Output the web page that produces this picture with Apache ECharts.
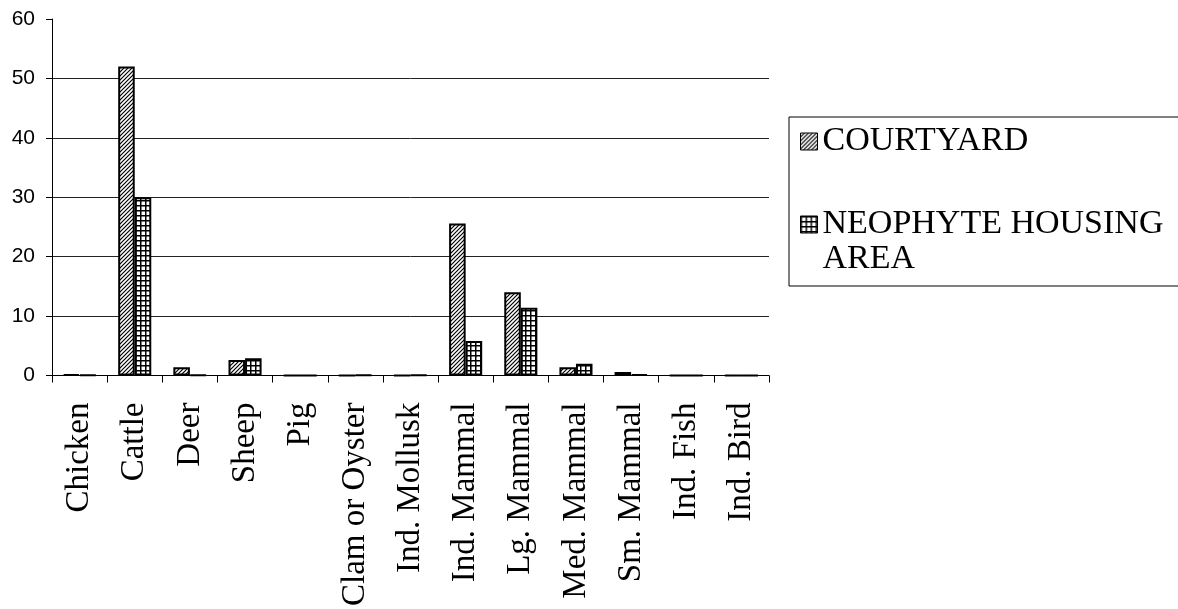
<!DOCTYPE html>
<html>
<head>
<meta charset="utf-8">
<style>html,body{margin:0;padding:0;background:#fff;}#chart{width:1178px;height:609px;}</style>
<script src="https://cdn.jsdelivr.net/npm/echarts@6/dist/echarts.min.js"></script>
</head>
<body>
<div id="chart"></div>
<script>
const categories = ['Chicken','Cattle','Deer','Sheep','Pig','Clam or Oyster','Ind. Mollusk','Ind. Mammal','Lg. Mammal','Med. Mammal','Sm. Mammal','Ind. Fish','Ind. Bird'];
const courtyard = [0.2, 52, 1.4, 2.6, 0, 0, 0, 25.6, 14, 1.4, 0.6, 0, 0];
const neophyte  = [0.1, 30, 0.1, 2.9, 0, 0.1, 0.1, 5.8, 11.4, 2.0, 0.2, 0, 0];
const seriesNames = ['COURTYARD', 'NEOPHYTE HOUSING AREA'];
const yMin = 0, yMax = 60, yStep = 10;

function hatchPattern() {
  const c = document.createElement('canvas');
  c.width = 4; c.height = 4;
  const g = c.getContext('2d');
  g.fillStyle = '#fff'; g.fillRect(0, 0, 4, 4);
  g.strokeStyle = '#000'; g.lineWidth = 1.2;
  g.beginPath();
  g.moveTo(-1, 5); g.lineTo(5, -1);
  g.moveTo(-1, 1); g.lineTo(1, -1);
  g.moveTo(3, 5); g.lineTo(5, 3);
  g.stroke();
  return c;
}
function gridPattern() {
  const c = document.createElement('canvas');
  c.width = 5; c.height = 5;
  const g = c.getContext('2d');
  g.fillStyle = '#000'; g.fillRect(0, 0, 5, 5);
  g.fillStyle = '#fff'; g.fillRect(1.5, 1.5, 3.5, 3.5);
  return c;
}

const chart = echarts.init(document.getElementById('chart'));
const serif = "'Liberation Serif', 'Times New Roman', serif";
chart.setOption({
  animation: false,
  backgroundColor: '#fff',
  grid: { left: 52, right: 409, top: 19, bottom: 222, containLabel: false },
  legend: {
    orient: 'vertical',
    left: 789, top: 117,
    padding: [7, 220, 9, 11],
    itemGap: 13,
    itemWidth: 17, itemHeight: 17,
    borderColor: '#000', borderWidth: 1,
    icon: 'rect',
    itemStyle: { borderWidth: 1, borderColor: '#000' },
    data: seriesNames,
    formatter: function (name) {
      if (name === seriesNames[1]) return '{e| }\n{t|NEOPHYTE HOUSING}\n{t|AREA}';
      return '{t|' + name + '}';
    },
    textStyle: {
      fontFamily: serif, fontSize: 34, color: '#000', lineHeight: 35,
      rich: {
        t: { fontFamily: serif, fontSize: 34, color: '#000', lineHeight: 35 },
        e: { fontFamily: serif, fontSize: 34, lineHeight: 35 }
      }
    }
  },
  xAxis: {
    type: 'category',
    data: categories,
    axisLine: { lineStyle: { color: '#000', width: 1 } },
    axisTick: { show: true, length: 7, alignWithLabel: false, lineStyle: { color: '#000' } },
    axisLabel: { rotate: 90, margin: 27, fontFamily: serif, fontSize: 33, color: '#000', interval: 0 }
  },
  yAxis: {
    type: 'value',
    min: yMin, max: yMax, interval: yStep,
    axisLine: { show: true, lineStyle: { color: '#000', width: 1 } },
    axisTick: { show: true, length: 6, lineStyle: { color: '#000' } },
    axisLabel: { margin: 17, fontFamily: "'Liberation Sans', Arial, sans-serif", fontSize: 21, color: '#000' },
    splitLine: { show: true, showMaxLine: false, lineStyle: { color: '#222', width: 1 } }
  },
  series: [
    {
      name: seriesNames[0], type: 'bar', data: courtyard,
      barGap: '0%', barCategoryGap: '40%',
      itemStyle: { color: { image: hatchPattern(), repeat: 'repeat' }, borderColor: '#000', borderWidth: 2 }
    },
    {
      name: seriesNames[1], type: 'bar', data: neophyte,
      itemStyle: { color: { image: gridPattern(), repeat: 'repeat' }, borderColor: '#000', borderWidth: 2 }
    }
  ]
});
</script>
</body>
</html>
